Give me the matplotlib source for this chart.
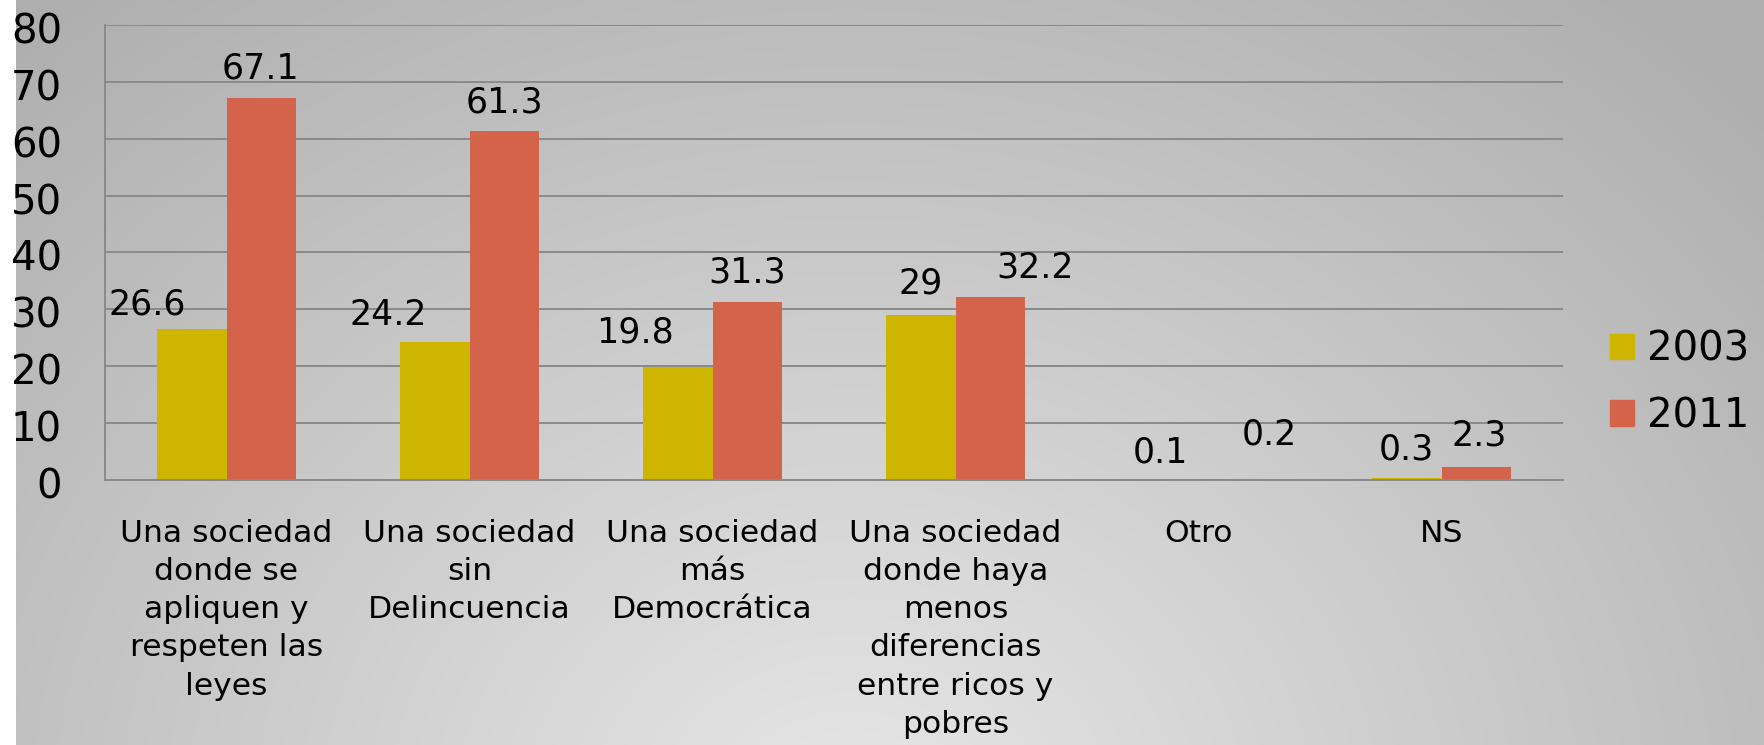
import numpy as np
import matplotlib
matplotlib.use("Agg")
import matplotlib.pyplot as plt
from matplotlib.patches import Patch
from matplotlib.transforms import offset_copy

# ---- data ----
categories = [
    "Una sociedad\ndonde se\napliquen y\nrespeten las\nleyes",
    "Una sociedad\nsin\nDelincuencia",
    "Una sociedad\nmás\nDemocrática",
    "Una sociedad\ndonde haya\nmenos\ndiferencias\nentre ricos y\npobres",
    "Otro",
    "NS",
]
series_names = ["2003", "2011"]
values_2003 = [26.6, 24.2, 19.8, 29, 0.1, 0.3]
values_2011 = [67.1, 61.3, 31.3, 32.2, 0.2, 2.3]
label_2003 = ["26.6", "24.2", "19.8", "29", "0.1", "0.3"]
label_2011 = ["67.1", "61.3", "31.3", "32.2", "0.2", "2.3"]
yticks = [0, 10, 20, 30, 40, 50, 60, 70, 80]

# ---- style ----
col_2003 = "#CEB600"
col_2011 = "#D3634A"
grid_col = "#8a8a8a"
# label offsets (pixels) relative to bar top centre
off_2003 = [(-45, 24), (-47, 27), (-43, 35), (0, 32), (-3, 27), (0, 29)]
off_2011 = [(-1, 30), (0, 29), (0, 29), (45, 29), (36, 44), (3, 31)]

W, H = 1765, 745
fig = plt.figure(figsize=(W / 100, H / 100), dpi=100)

# background gradient
bg = fig.add_axes([0, 0, 1, 1], zorder=-10)
xx, yy = np.meshgrid(np.arange(W), np.arange(H))
r = np.sqrt(((xx - 850) / 1000.0) ** 2 + ((yy - 820) / 850.0) ** 2)
c = 0.905 - 0.22 * np.minimum(r, 1.25) / 1.25
img = np.dstack([c, c, c])
img[:, :16, :] = 1.0
bg.imshow(img, aspect="auto", extent=[0, W, H, 0], interpolation="bilinear")
bg.set_axis_off()

ax = fig.add_axes([105 / W, 1 - 480 / H, (1563 - 105) / W, (480 - 25) / H])
ax.patch.set_alpha(0)

n = len(categories)
x = np.arange(n)
bw = 1 / 3.5
ax.bar(x - bw / 2, values_2003, bw, color=col_2003, label=series_names[0], zorder=3)
ax.bar(x + bw / 2, values_2011, bw, color=col_2011, label=series_names[1], zorder=3)

ax.set_xlim(-0.5, n - 0.5)
ax.set_ylim(0, 80)
ax.set_yticks(yticks)
ax.set_yticklabels([str(t) for t in yticks], fontsize=29, family="DejaVu Sans")
ax.set_xticks(x)
ax.set_xticklabels(categories, fontsize=22.6, family="DejaVu Sans", linespacing=1.40)
ax.tick_params(axis="y", length=0, pad=31)
ax.tick_params(axis="x", length=0, pad=28)
for t in ax.get_yticklabels():
    t.set_transform(offset_copy(t.get_transform(), fig=fig, x=0, y=-3, units="dots"))

ax.yaxis.grid(True, color=grid_col, lw=1.4, zorder=1)
ax.set_axisbelow(True)
for s in ["top", "right"]:
    ax.spines[s].set_visible(False)
for s in ["left", "bottom"]:
    ax.spines[s].set_color(grid_col)
    ax.spines[s].set_linewidth(1.4)
    ax.spines[s].set_zorder(4)

for xi, v, lab, (dx, dy) in zip(x - bw / 2, values_2003, label_2003, off_2003):
    ax.annotate(lab, (xi, v), xytext=(dx, dy), textcoords="offset pixels",
                ha="center", va="center", fontsize=25, family="DejaVu Sans")
for xi, v, lab, (dx, dy) in zip(x + bw / 2, values_2011, label_2011, off_2011):
    ax.annotate(lab, (xi, v), xytext=(dx, dy), textcoords="offset pixels",
                ha="center", va="center", fontsize=25, family="DejaVu Sans")

handles = [Patch(color=col_2003), Patch(color=col_2011)]
fig.legend(handles, series_names, loc="center left",
           bbox_to_anchor=(1610 / W, 1 - 383 / H), frameon=False,
           handlelength=0.6, handleheight=0.6, handletextpad=0.33,
           labelspacing=0.66, borderpad=0, borderaxespad=0,
           prop={"family": "DejaVu Sans", "size": 29})

fig.savefig("out.png", dpi=100)
